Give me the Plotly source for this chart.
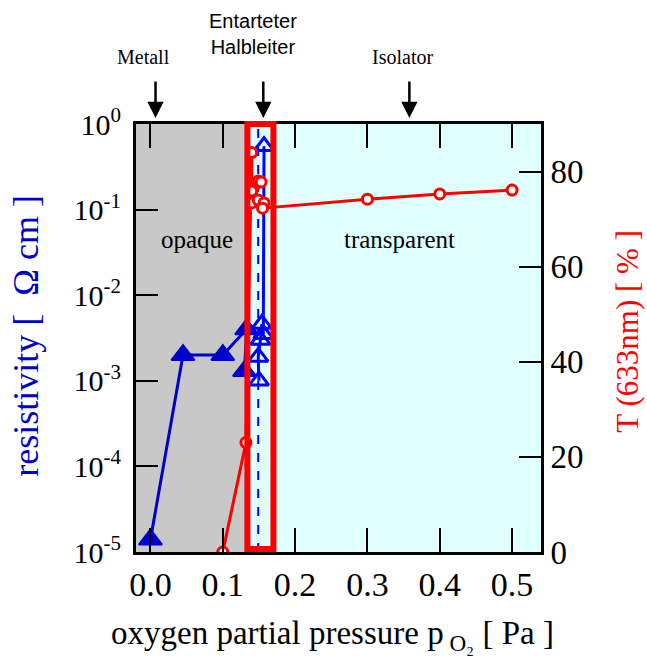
import plotly.graph_objects as go

# ---------------- data ----------------
res_fill_x = [0.0, 0.045, 0.10, 0.133, 0.130]
res_fill_y = [1.4e-5, 2.0e-3, 2.0e-3, 4.0e-3, 1.3e-3]

res_open_x = [0.150, 0.149, 0.152, 0.154, 0.156, 0.157]
res_open_y = [1.0e-3, 1.9e-3, 3.0e-3, 4.6e-3, 3.5e-3, 0.55]

trans_x = [0.10, 0.132, 0.140, 0.140, 0.149, 0.153, 0.140, 0.149, 0.157, 0.155, 0.30, 0.40, 0.50]
trans_y = [0.0, 23.0, 84.0, 75.9, 78.0, 77.8, 73.4, 74.0, 73.4, 72.3, 74.2, 75.3, 76.1]

x_ticks = [0.0, 0.1, 0.2, 0.3, 0.4, 0.5]
x_ticklabels = ["0.0", "0.1", "0.2", "0.3", "0.4", "0.5"]
res_ticks = [1e-5, 1e-4, 1e-3, 1e-2, 1e-1, 1e0]
res_ticklabels = ["10<sup>-5</sup>", "10<sup>-4</sup>", "10<sup>-3</sup>",
                  "10<sup>-2</sup>", "10<sup>-1</sup>", "10<sup>0</sup>"]
t_ticks = [0, 20, 40, 60, 80]

opaque_limit = 0.134
window_x = [0.134, 0.170]
dashed_x = 0.149
phase_labels = ["Metall", "Entarteter<br>Halbleiter", "Isolator"]
phase_x = [0.007, 0.156, 0.358]
phase_label_x = [-0.0097, 0.142, 0.349]

SERIF = "Liberation Serif"
SANS = "Liberation Sans"
BLUE = "#0000CC"
BLUE2 = "#0000FF"
RED = "#FF0000"

fig = go.Figure()

fig.add_trace(go.Scatter(
    x=res_fill_x, y=res_fill_y, mode="lines+markers",
    line=dict(color=BLUE, width=3),
    marker=dict(symbol="triangle-up", size=20, color=BLUE, line=dict(color=BLUE, width=2)),
    showlegend=False))

fig.add_trace(go.Scatter(
    x=res_open_x, y=res_open_y, mode="lines+markers",
    line=dict(color=BLUE2, width=3),
    marker=dict(symbol="triangle-up-open", size=17, color=BLUE2, line=dict(color=BLUE2, width=3)),
    showlegend=False))

fig.add_trace(go.Scatter(
    x=trans_x, y=trans_y, mode="lines+markers", yaxis="y2",
    line=dict(color=RED, width=3),
    marker=dict(symbol="circle", size=10, color="white", line=dict(color=RED, width=3)),
    showlegend=False))

shapes = [
    dict(type="rect", xref="x", yref="paper", x0=-0.02, x1=opaque_limit, y0=0, y1=1,
         fillcolor="#C8C8C8", line=dict(width=0), layer="below"),
    dict(type="rect", xref="x", yref="paper", x0=opaque_limit, x1=0.54, y0=0, y1=1,
         fillcolor="#E0FFFF", line=dict(width=0), layer="below"),
    dict(type="line", xref="x", yref="paper", x0=dashed_x, x1=dashed_x, y0=0, y1=1,
         line=dict(color=BLUE2, width=2, dash="dash"), layer="below"),
    dict(type="rect", xref="x", yref="paper", x0=window_x[0], x1=window_x[1], y0=0.007, y1=1.0,
         line=dict(color=RED, width=6), fillcolor="rgba(0,0,0,0)", layer="above"),
]

def txt(x, y, text, family, size, color="black", xref="x", angle=0):
    return dict(x=x, y=y, xref=xref, yref="paper", text=text, showarrow=False,
                xanchor="center", yanchor="middle", textangle=angle,
                font=dict(family=family, size=size, color=color))

annotations = []
for px in phase_x:
    annotations.append(dict(x=px, y=1.014, xref="x", yref="paper", text="",
                            showarrow=True, ax=0, ay=-38, arrowhead=2, arrowsize=1.3,
                            arrowwidth=2.5, arrowcolor="black"))
annotations.append(txt(phase_label_x[0], 1.157, phase_labels[0], SERIF, 20))
annotations.append(txt(phase_label_x[1], 1.21, phase_labels[1], SANS, 20))
annotations.append(txt(phase_label_x[2], 1.157, phase_labels[2], SERIF, 20))
annotations.append(txt(0.065, 0.729, "opaque", SERIF, 25))
annotations.append(txt(0.344, 0.729, "transparent", SERIF, 25))
annotations.append(txt(0.486, -0.196, "oxygen partial pressure p<sub> O₂</sub> [ Pa ]",
                       SERIF, 33, xref="paper"))
annotations.append(txt(-0.272, 0.505, "resistivity [  Ω cm ]", SERIF, 36, BLUE,
                       xref="paper", angle=-90))
annotations.append(txt(1.215, 0.515, "T (633nm) [ % ]", SERIF, 31, RED,
                       xref="paper", angle=-90))

fig.update_layout(
    width=647, height=669,
    margin=dict(l=136, r=106, t=124, b=117),
    paper_bgcolor="white", plot_bgcolor="white",
    shapes=shapes, annotations=annotations,
    xaxis=dict(range=[-0.02, 0.54], tickvals=x_ticks, ticktext=x_ticklabels,
               ticks="inside", ticklen=24, tickwidth=2, tickcolor="black",
               showline=True, linecolor="black", linewidth=3, mirror="ticks",
               showgrid=False, zeroline=False,
               tickfont=dict(family=SERIF, size=34, color="black")),
    yaxis=dict(type="log", range=[-5, 0], tickvals=res_ticks, ticktext=res_ticklabels,
               ticks="inside", ticklen=22, tickwidth=2, tickcolor="black",
               showline=True, linecolor="black", linewidth=3, mirror=False,
               showgrid=False, zeroline=False, ticklabelstandoff=6,
               tickfont=dict(family=SERIF, size=30, color="black")),
    yaxis2=dict(overlaying="y", side="right", range=[0, 90], tickvals=t_ticks,
                ticks="inside", ticklen=22, tickwidth=2, tickcolor="black",
                showline=True, linecolor="black", linewidth=3,
                showgrid=False, zeroline=False,
                tickfont=dict(family=SERIF, size=33, color="black")),
)

fig.write_html("out.html", config={"displayModeBar": False},
               post_script="document.body.style.margin='0';document.body.style.overflow='hidden';")
